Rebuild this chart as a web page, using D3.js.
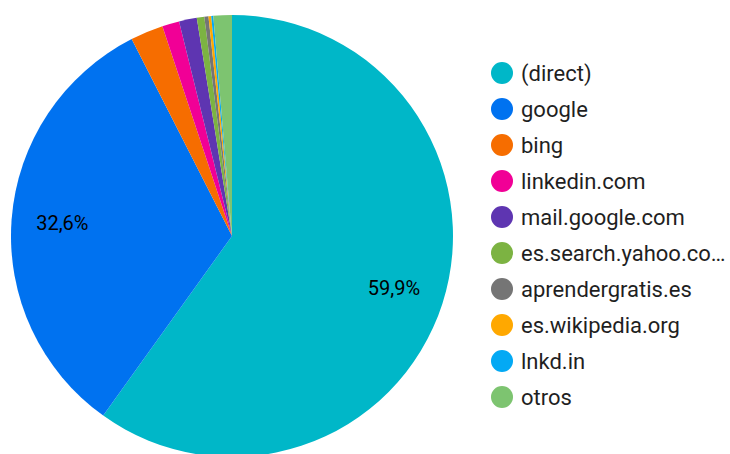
<!DOCTYPE html>
<html><head><meta charset="utf-8">
<script src="https://cdn.jsdelivr.net/npm/d3@7"></script>
<style>html,body{margin:0;padding:0;background:#fff;}svg{display:block;font-family:Roboto,sans-serif;}</style>
</head><body>
<svg id="c" width="730" height="454"></svg>
<script>
const categories = ["(direct)","google","bing","linkedin.com","mail.google.com","es.search.yahoo.com","aprendergratis.es","es.wikipedia.org","lnkd.in","otros"];
const legendLabels = ["(direct)","google","bing","linkedin.com","mail.google.com","es.search.yahoo.co…","aprendergratis.es","es.wikipedia.org","lnkd.in","otros"];
const values = [59.9, 32.6, 2.4, 1.25, 1.3, 0.55, 0.3, 0.2, 0.15, 1.35];
const colors = ["#00b7c8","#0072f0","#f66d00","#f10096","#5e35b1","#7cb342","#757575","#ffa800","#03a9f4","#7dc470"];

const svg = d3.select("#c");
const cx = 232, cy = 236, r = 221;
const pie = d3.pie().sort(null).value(d => d.v);
const data = categories.map((c,i)=>({c, v: values[i], col: colors[i]}));
const arcs = pie(data);
const arc = d3.arc().innerRadius(0).outerRadius(r);
const labelArc = d3.arc().innerRadius(r*0.77).outerRadius(r*0.77);
const g = svg.append("g").attr("transform",`translate(${cx},${cy})`);
g.selectAll("path").data(arcs).join("path").attr("d",arc).attr("fill",d=>d.data.col);
const total = d3.sum(values);
g.selectAll("text").data(arcs.filter(d=>d.data.v/total>0.05)).join("text")
  .attr("transform",d=>`translate(${labelArc.centroid(d)})`)
  .attr("text-anchor","middle").attr("dy","0.35em")
  .attr("font-size",20).attr("fill","#000")
  .text(d=>d3.format(".1f")(d.data.v).replace(".",",")+"%");

const leg = svg.append("g");
const y = d3.scalePoint().domain(d3.range(categories.length)).range([73,397]);
const items = leg.selectAll("g").data(data).join("g").attr("transform",(d,i)=>`translate(0,${y(i)})`);
items.append("circle").attr("cx",502).attr("cy",0).attr("r",11).attr("fill",d=>d.col);
items.append("text").attr("x",521).attr("dy","0.35em").attr("font-size",22).attr("fill","#1f1f1f")
  .text((d,i)=>legendLabels[i]);
</script>
</body></html>
